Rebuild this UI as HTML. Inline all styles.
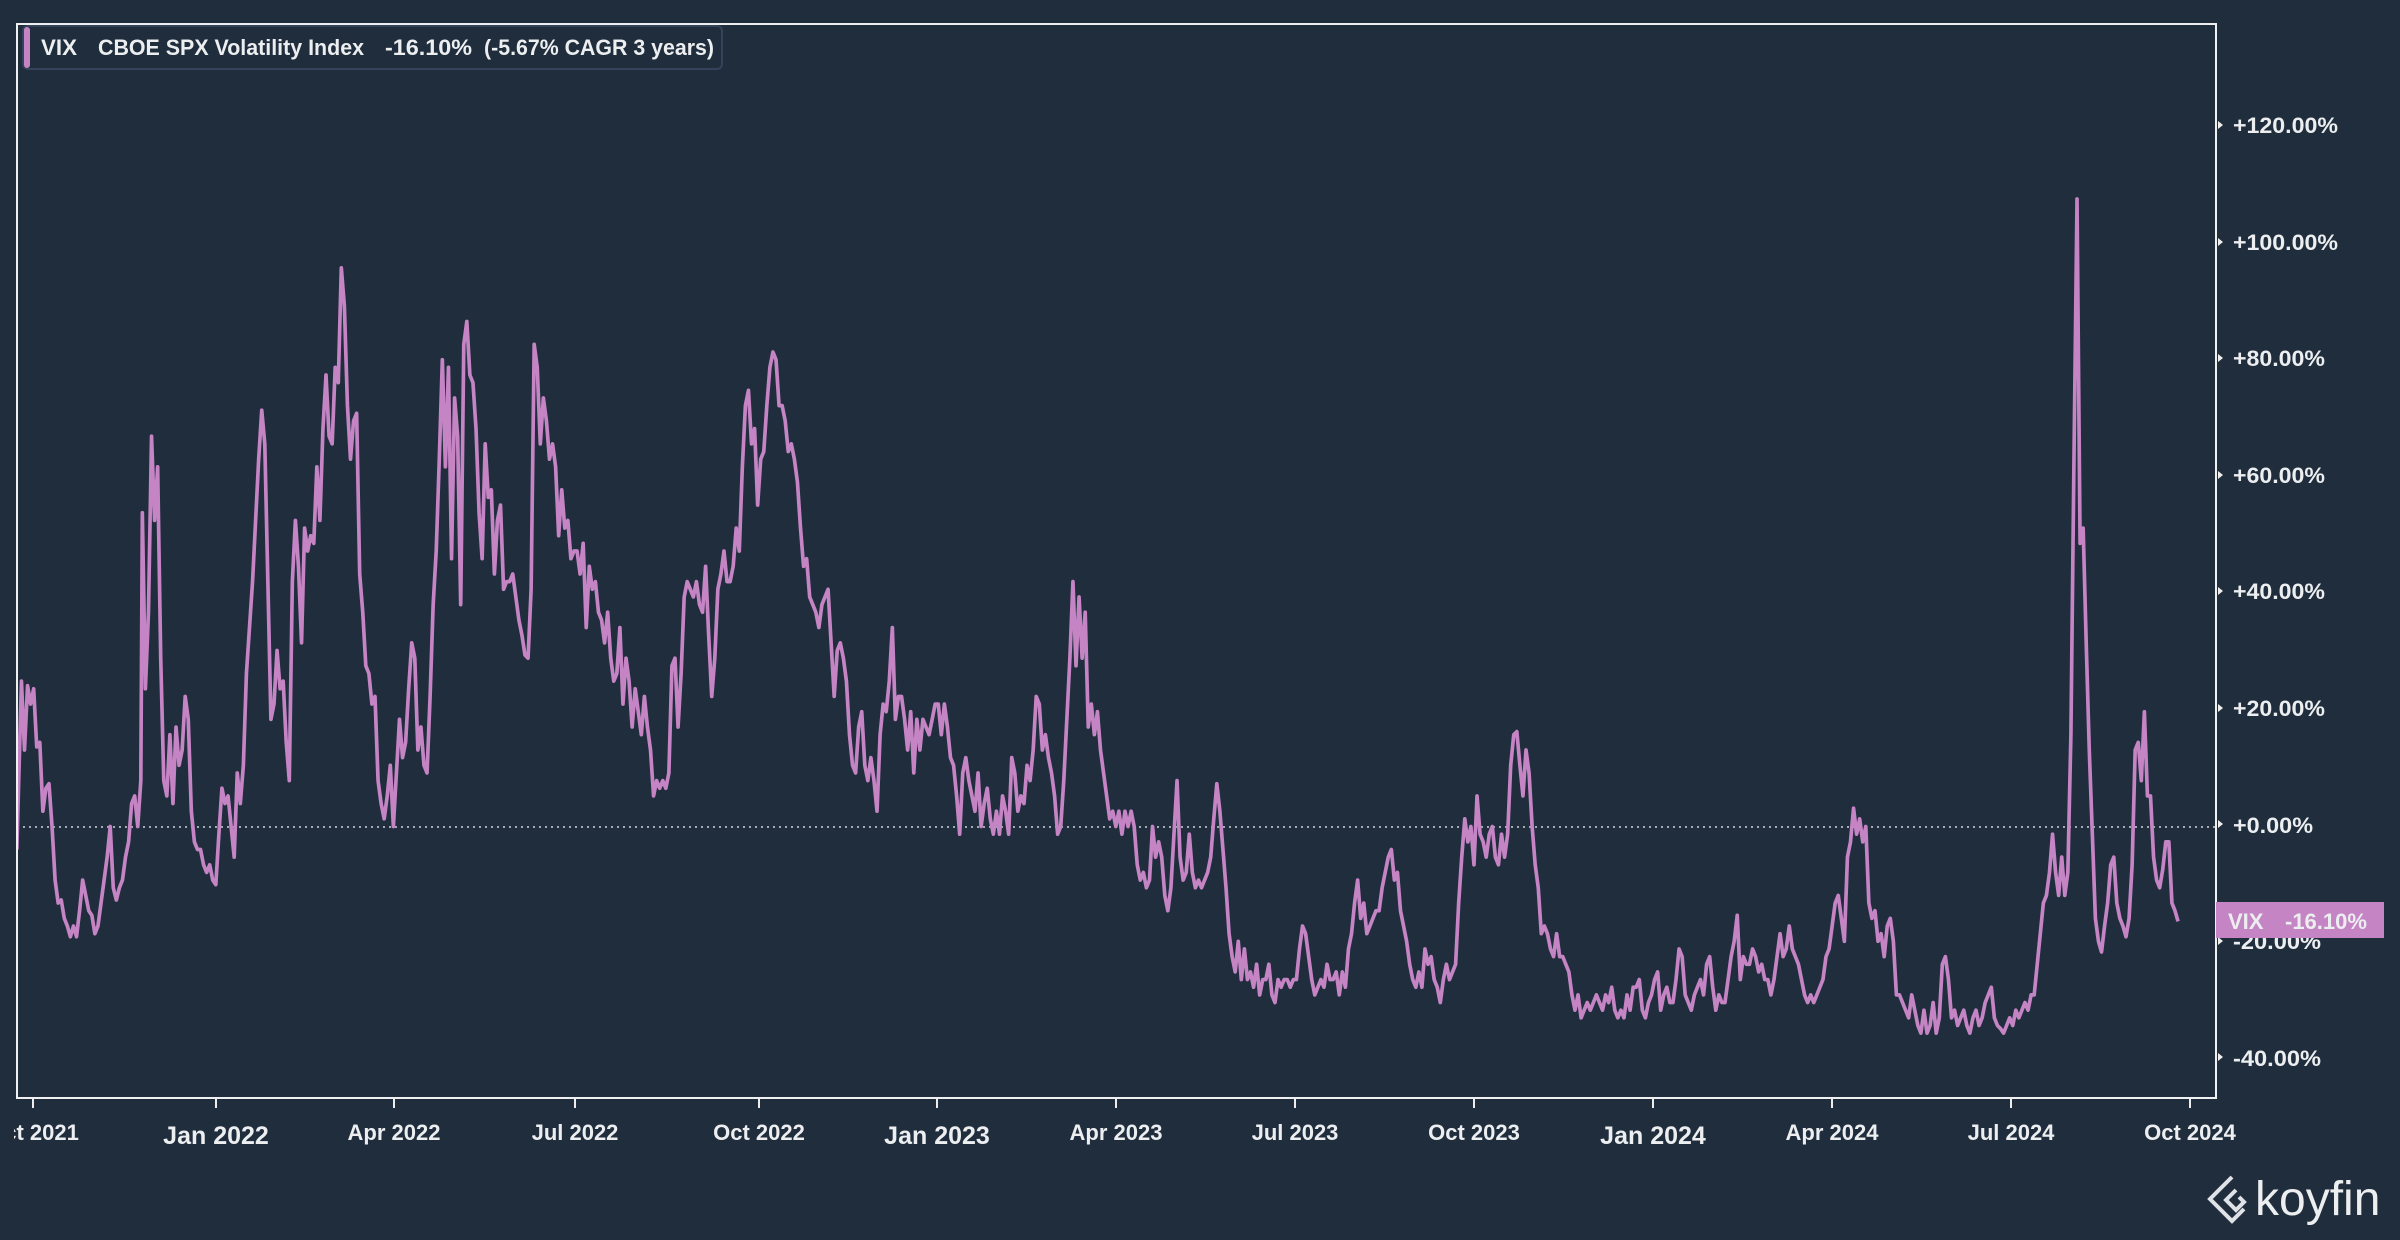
<!DOCTYPE html>
<html><head><meta charset="utf-8"><style>
html,body{margin:0;padding:0;background:#1f2d3d;width:2400px;height:1240px;overflow:hidden}
svg{display:block}
text{font-family:"Liberation Sans",sans-serif;fill:#eceef0}
</style></head><body>
<svg width="2400" height="1240" viewBox="0 0 2400 1240">
<rect width="2400" height="1240" fill="#1f2d3d"/>
<defs><clipPath id="c"><rect x="17" y="24" width="2199" height="1074"/></clipPath></defs>
<line x1="17" y1="827" x2="2216" y2="827" stroke="#cfd4da" stroke-width="1.5" stroke-dasharray="2,4"/>
<g clip-path="url(#c)"><g transform="scale(1.5306)">
<polyline fill="none" stroke="#c584c4" stroke-width="2.4" stroke-linejoin="round" points="11,555 14,445 16,490 18,448 20,460 22,450 24,488 26,485 28,530 30,515 32,512 34,540 36,575 38,590 40,588 42,600 44,605 46,612 48,605 50,612 52,595 54,575 56,585 58,595 60,598 62,610 64,605 66,590 68,575 70,560 72,540 74,580 76,588 78,580 80,575 82,560 84,550 86,525 88,520 90,540 92,510 93,335 95,450 97,400 99,285 101,340 103,305 105,430 107,510 109,520 111,480 113,525 115,475 117,500 119,490 121,455 123,470 125,530 127,550 129,555 131,555 133,565 135,570 137,565 139,575 141,578 143,545 145,515 147,525 149,520 151,540 153,560 155,505 157,525 159,500 161,440 163,410 165,380 167,340 169,300 171,268 173,290 175,380 177,470 179,460 181,425 183,450 185,445 187,485 189,510 191,380 193,340 195,370 197,420 199,345 201,360 203,350 205,355 207,305 209,340 211,280 213,245 215,285 217,290 219,240 221,250 223,175 225,200 227,265 229,300 231,275 233,270 235,375 237,400 239,435 241,440 243,460 245,455 247,510 249,525 251,535 253,520 255,500 257,540 259,505 261,470 263,495 265,485 267,450 269,420 271,430 273,490 275,475 277,500 279,505 281,455 283,395 285,360 287,300 289,235 291,305 293,240 295,365 297,260 299,285 301,395 303,225 305,210 307,245 309,250 311,280 313,335 315,365 317,290 319,325 321,320 323,375 325,340 327,330 329,385 331,380 333,380 335,375 337,390 339,405 341,415 343,428 345,430 347,385 349,225 351,240 353,290 355,260 357,275 359,300 361,290 363,305 365,350 367,320 369,345 371,340 373,365 375,360 377,360 379,375 381,355 383,410 385,370 387,385 389,380 391,400 393,405 395,420 397,400 399,430 401,445 403,440 405,410 407,460 409,430 411,445 413,475 415,450 417,465 419,480 421,455 423,475 425,490 427,520 429,510 431,515 433,510 435,515 437,505 439,435 441,430 443,475 445,440 447,390 449,380 451,385 453,390 455,380 457,395 459,400 461,370 463,415 465,455 467,430 469,385 471,375 473,360 475,380 477,380 479,370 481,345 483,360 485,305 487,265 489,255 491,290 493,280 495,330 497,300 499,295 501,265 503,240 505,230 507,235 509,265 511,265 513,275 515,295 517,290 519,300 521,315 523,345 525,370 527,365 529,390 531,395 533,400 535,410 537,395 539,390 541,385 543,420 545,455 547,425 549,420 551,430 553,445 555,480 557,500 559,505 561,475 563,465 565,500 567,510 569,495 571,510 573,530 575,480 577,460 579,465 581,445 583,410 585,470 587,455 589,455 591,470 593,490 595,465 597,505 599,470 601,490 603,470 605,475 607,480 609,470 611,460 613,460 615,480 617,460 619,475 621,495 623,500 625,520 627,545 629,505 631,495 633,510 635,520 637,530 639,505 641,540 643,525 645,515 647,535 649,545 651,530 653,545 655,520 657,530 659,545 661,495 663,505 665,530 667,520 669,525 671,500 673,510 675,490 677,455 679,460 681,490 683,480 685,495 687,505 689,520 691,545 693,540 695,510 697,470 699,430 701,380 703,435 705,390 707,430 709,400 711,475 713,460 715,480 717,465 719,490 721,505 723,520 725,535 727,530 729,540 731,530 733,545 735,530 737,540 739,530 741,540 743,565 745,575 747,570 749,580 751,575 753,540 755,560 757,550 759,560 761,585 763,595 765,580 767,545 769,510 771,560 773,575 775,570 777,545 779,570 781,580 783,575 785,580 787,575 789,570 791,560 793,535 795,512 797,530 799,555 801,580 803,610 805,625 807,635 809,615 811,640 813,620 815,640 817,635 819,645 821,630 823,650 825,640 827,640 829,630 831,650 833,655 835,640 837,645 839,640 841,640 843,645 845,640 847,640 849,620 851,605 853,610 855,625 857,640 859,650 861,645 863,640 865,645 867,630 869,640 871,640 873,635 875,650 877,635 879,645 881,620 883,610 885,590 887,575 889,600 891,590 893,610 895,605 897,600 899,595 901,595 903,580 905,570 907,560 909,555 911,575 913,570 915,595 917,605 919,615 921,630 923,640 925,645 927,635 929,645 931,620 933,630 935,625 937,640 939,645 941,655 943,640 945,630 947,640 949,635 951,630 953,590 955,560 957,535 959,550 961,540 963,565 965,520 967,545 969,550 971,560 973,545 975,540 977,560 979,565 981,545 983,560 985,545 987,500 989,480 991,478 993,500 995,520 997,490 999,505 1001,540 1003,565 1005,580 1007,610 1009,605 1011,610 1013,620 1015,625 1017,610 1019,625 1021,625 1023,630 1025,635 1027,650 1029,660 1031,650 1033,665 1035,660 1037,655 1039,660 1041,655 1043,650 1045,655 1047,660 1049,650 1051,655 1053,645 1055,660 1057,665 1059,660 1061,665 1063,650 1065,660 1067,645 1069,645 1071,640 1073,660 1075,665 1077,655 1079,650 1081,640 1083,635 1085,660 1087,650 1089,645 1091,655 1093,655 1095,640 1097,620 1099,625 1101,650 1103,655 1105,660 1107,650 1109,645 1111,640 1113,650 1115,630 1117,625 1119,645 1121,660 1123,650 1125,655 1127,655 1129,640 1131,625 1133,615 1135,598 1137,640 1139,625 1141,630 1143,630 1145,620 1147,625 1149,635 1151,630 1153,640 1155,640 1157,650 1159,640 1161,625 1163,610 1165,625 1167,620 1169,605 1171,620 1173,625 1175,630 1177,640 1179,650 1181,655 1183,650 1185,655 1187,650 1189,645 1191,640 1193,625 1195,620 1197,605 1199,590 1201,585 1203,600 1205,615 1207,560 1209,550 1211,528 1213,545 1215,535 1217,550 1219,540 1221,590 1223,600 1225,595 1227,615 1229,610 1231,625 1233,605 1235,600 1237,615 1239,650 1241,650 1243,655 1245,660 1247,665 1249,650 1251,660 1253,670 1255,675 1257,660 1259,675 1261,670 1263,655 1265,675 1267,665 1269,630 1271,625 1273,640 1275,665 1277,660 1279,670 1281,665 1283,660 1285,670 1287,675 1289,665 1291,660 1293,670 1295,665 1297,655 1299,650 1301,645 1303,665 1305,670 1307,672 1309,675 1311,670 1313,665 1315,670 1317,660 1319,665 1321,660 1323,655 1325,660 1327,650 1329,650 1331,630 1333,610 1335,590 1337,585 1339,570 1341,545 1343,570 1345,585 1347,560 1349,585 1351,570 1353,480 1355,300 1357,130 1359,355 1361,345 1363,420 1365,490 1367,545 1369,600 1371,615 1373,622 1375,605 1377,590 1379,565 1381,560 1383,590 1385,600 1387,605 1389,612 1391,600 1393,565 1395,490 1397,485 1399,510 1401,465 1403,520 1405,520 1407,560 1409,575 1411,580 1413,568 1415,550 1417,550 1419,590 1421,595 1423,602"/>
</g></g>
<rect x="17" y="24" width="2199" height="1074" fill="none" stroke="#eef0f2" stroke-width="2"/>
<!-- legend -->
<rect x="23" y="26" width="699" height="43" rx="5" fill="#1f2d3d" stroke="#33445a" stroke-width="2"/>
<rect x="24" y="27" width="6" height="41" rx="3" fill="#c584c4"/>
<g font-size="22" font-weight="bold">
<text x="41" y="55" textLength="36" lengthAdjust="spacingAndGlyphs">VIX</text>
<text x="98" y="55" textLength="266" lengthAdjust="spacingAndGlyphs">CBOE SPX Volatility Index</text>
<text x="385" y="55" textLength="87" lengthAdjust="spacingAndGlyphs">-16.10%</text>
<text x="484" y="55" textLength="230" lengthAdjust="spacingAndGlyphs">(-5.67% CAGR 3 years)</text>
</g>
<!-- y axis -->
<g font-size="22" font-weight="bold">
<path d="M2218,121 l5,4 l-5,4Z M2218,238 l5,4 l-5,4Z M2218,354 l5,4 l-5,4Z M2218,471 l5,4 l-5,4Z M2218,587 l5,4 l-5,4Z M2218,704 l5,4 l-5,4Z M2218,820 l5,4 l-5,4Z M2218,937 l5,4 l-5,4Z M2218,1053 l5,4 l-5,4Z" fill="#eee"/>
<text x="2233" y="133" textLength="105" lengthAdjust="spacingAndGlyphs">+120.00%</text>
<text x="2233" y="250" textLength="105" lengthAdjust="spacingAndGlyphs">+100.00%</text>
<text x="2233" y="366" textLength="92" lengthAdjust="spacingAndGlyphs">+80.00%</text>
<text x="2233" y="483" textLength="92" lengthAdjust="spacingAndGlyphs">+60.00%</text>
<text x="2233" y="599" textLength="92" lengthAdjust="spacingAndGlyphs">+40.00%</text>
<text x="2233" y="716" textLength="92" lengthAdjust="spacingAndGlyphs">+20.00%</text>
<text x="2233" y="833" textLength="80" lengthAdjust="spacingAndGlyphs">+0.00%</text>
<text x="2233" y="949" textLength="88" lengthAdjust="spacingAndGlyphs">-20.00%</text>
<text x="2233" y="1066" textLength="88" lengthAdjust="spacingAndGlyphs">-40.00%</text>
</g>
<rect x="2216" y="902" width="168" height="36" fill="#c584c4"/>
<text x="2228" y="929" font-size="22" font-weight="bold" fill="#fff">VIX</text>
<text x="2285" y="929" font-size="22" font-weight="bold" fill="#fff">-16.10%</text>
<!-- x axis -->
<g stroke="#eee" stroke-width="2">
<line x1="33" y1="1098" x2="33" y2="1108"/><line x1="216" y1="1098" x2="216" y2="1108"/><line x1="394" y1="1098" x2="394" y2="1108"/><line x1="575" y1="1098" x2="575" y2="1108"/><line x1="759" y1="1098" x2="759" y2="1108"/><line x1="937" y1="1098" x2="937" y2="1108"/><line x1="1116" y1="1098" x2="1116" y2="1108"/><line x1="1295" y1="1098" x2="1295" y2="1108"/><line x1="1474" y1="1098" x2="1474" y2="1108"/><line x1="1653" y1="1098" x2="1653" y2="1108"/><line x1="1832" y1="1098" x2="1832" y2="1108"/><line x1="2011" y1="1098" x2="2011" y2="1108"/><line x1="2190" y1="1098" x2="2190" y2="1108"/>
</g>
<g font-size="22" font-weight="bold" text-anchor="middle">
<text x="33" y="1140">Oct 2021</text>
<text x="394" y="1140">Apr 2022</text>
<text x="575" y="1140">Jul 2022</text>
<text x="759" y="1140">Oct 2022</text>
<text x="1116" y="1140">Apr 2023</text>
<text x="1295" y="1140">Jul 2023</text>
<text x="1474" y="1140">Oct 2023</text>
<text x="1832" y="1140">Apr 2024</text>
<text x="2011" y="1140">Jul 2024</text>
<text x="2190" y="1140">Oct 2024</text>
</g>
<g font-size="25" font-weight="bold" text-anchor="middle">
<text x="216" y="1144">Jan 2022</text>
<text x="937" y="1144">Jan 2023</text>
<text x="1653" y="1144">Jan 2024</text>
</g>
<rect x="0" y="1112" width="14" height="40" fill="#1f2d3d"/>
<!-- logo -->
<g fill="none" stroke="#dfe2e6" stroke-width="4">
<path d="M2232,1177 l-22,22 l22,22 l12,-12"/>
<path d="M2236,1190 l-10,10 l10,10 l8,-8 l-5,-5"/>
</g>
<text x="2255" y="1215" font-size="48" fill="#dfe2e6">koyfin</text>
</svg>
</body></html>
